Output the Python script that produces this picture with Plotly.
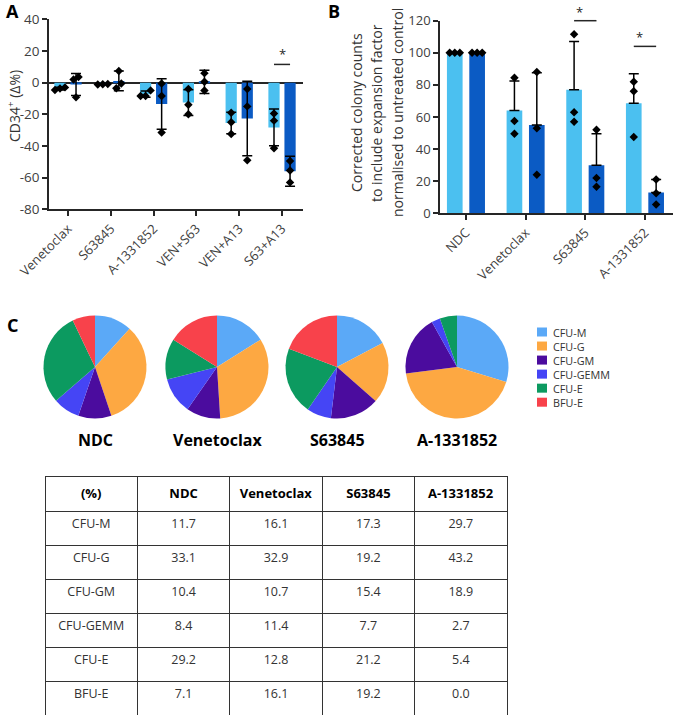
import plotly.graph_objects as go

W, H = 674, 716
FONT = "Open Sans"

# ---------------- Panel A data ----------------
cats_a = ["Venetoclax", "S63845", "A-1331852", "VEN+S63", "VEN+A13", "S63+A13"]
a_light_mean = [-3.8, -1.0, -7.3, -12.6, -25.5, -28.3]
a_light_sd = [0.9, 0.2, 2.0, 8.1, 6.8, 11.6]
a_dark_mean = [-1.2, 1.1, -13.5, 0.5, -22.7, -56.0]
a_dark_sd = [7.0, 6.3, 16.0, 7.3, 23.5, 9.5]
a_light_pts = [[-4.7, -3.7, -3.0], [-0.8, -1.0, -1.2], [-4.9, -8.5, -8.5],
               [-4.0, -14.0, -20.0], [-19.0, -25.0, -32.5], [-19.5, -24.0, -41.5]]
a_dark_pts = [[3.6, 2.0, -9.3], [7.3, -0.5, -3.6], [-0.5, -8.5, -31.5],
              [6.0, -5.0, 0.5], [-4.0, -15.0, -49.0], [-49.5, -63.0, -55.5]]
a_yticks = [-80, -60, -40, -20, 0, 20, 40]
a_sig_cat = [5]
a_sig_y = [11.5]
a_star_y = [18.3]

# ---------------- Panel B data ----------------
cats_b = ["NDC", "Venetoclax", "S63845", "A-1331852"]
b_light_mean = [100.0, 64.0, 77.0, 68.5]
b_light_sd = [0.0, 18.5, 30.0, 18.5]
b_dark_mean = [100.0, 55.0, 30.0, 13.0]
b_dark_sd = [0.0, 32.5, 19.5, 8.0]
b_light_pts = [[100, 100, 100], [84.5, 57.5, 49.5], [111.5, 63.0, 57.0], [82.0, 76.0, 47.5]]
b_dark_pts = [[100, 100, 100], [88.0, 53.0, 24.0], [52.0, 22.0, 16.5], [21.0, 12.5, 5.5]]
b_yticks = [0, 20, 40, 60, 80, 100, 120]
b_sig_cat = [2, 3]
b_sig_y = [120.0, 104.0]
b_star_y = [125.5, 109.7]
b_title_lines = ["Corrected colony counts", "to include expansion factor",
                 "normalised to untreated control"]

# ---------------- Panel C data ----------------
pie_cats = ["CFU-M", "CFU-G", "CFU-GM", "CFU-GEMM", "CFU-E", "BFU-E"]
pie_groups = ["NDC", "Venetoclax", "S63845", "A-1331852"]
pct_ndc = [11.7, 33.1, 10.4, 8.4, 29.2, 7.1]
pct_ven = [16.1, 32.9, 10.7, 11.4, 12.8, 16.1]
pct_s63 = [17.3, 19.2, 15.4, 7.7, 21.2, 19.2]
pct_a13 = [29.7, 43.2, 18.9, 2.7, 5.4, 0.0]
table_header = ["(%)"] + pie_groups

# ---------------- styles ----------------
LIGHT = "#4BC0F0"
DARK = "#0B5BC4"
PIE_COLORS = ["#5BA9F7", "#FDA842", "#4B0C9E", "#4545F5", "#0C9A60", "#F8424B"]
AX = "#262626"
TXT = "#404040"


def px(x):
    return x / W


def py(y):
    return 1 - y / H


def dodge(vals, tol, step):
    order = sorted(range(len(vals)), key=lambda k: vals[k])
    clusters = []
    for k in order:
        if clusters and abs(vals[k] - vals[clusters[-1][-1]]) <= tol:
            clusters[-1].append(k)
        else:
            clusters.append([k])
    offs = [0.0] * len(vals)
    for c in clusters:
        n = len(c)
        for j, k in enumerate(c):
            offs[k] = (j - (n - 1) / 2) * step
    return offs


BARGAP = 0.25
HALF = (1 - BARGAP) / 4  # centre offset of each bar in a pair

fig = go.Figure()


def add_panel(xa, ya, means_l, sd_l, means_d, sd_d, pts_l, pts_d, sym, tol, step):
    n = len(means_l)
    for means, sds, color in ((means_l, sd_l, LIGHT), (means_d, sd_d, DARK)):
        fig.add_trace(go.Bar(
            x=list(range(n)), y=means, marker=dict(color=color, line=dict(width=0)),
            error_y=dict(type="data", symmetric=False, array=sds,
                         arrayminus=sds if sym else [0] * n,
                         color="black", thickness=1.5, width=5),
            xaxis=xa, yaxis=ya, showlegend=False, hoverinfo="y"))
    for pts, sgn in ((pts_l, -1), (pts_d, 1)):
        xs, ys = [], []
        for i, vals in enumerate(pts):
            offs = dodge(vals, tol, step)
            for v, o in zip(vals, offs):
                xs.append(i + sgn * HALF + o)
                ys.append(v)
        fig.add_trace(go.Scatter(
            x=xs, y=ys, mode="markers", cliponaxis=False,
            marker=dict(symbol="diamond", size=6.5, color="black"),
            xaxis=xa, yaxis=ya, showlegend=False, hoverinfo="y"))


add_panel("x", "y", a_light_mean, a_light_sd, a_dark_mean, a_dark_sd,
          a_light_pts, a_dark_pts, True, 3.8, 0.117)
add_panel("x2", "y2", b_light_mean, b_light_sd, b_dark_mean, b_dark_sd,
          b_light_pts, b_dark_pts, False, 3.7, 0.085)

# pies
pie_vals = [pct_ndc, pct_ven, pct_s63, pct_a13]
pie_cx = [95, 217, 337, 457]
pie_cy = 367
pie_r = 51.5
for vals, cx in zip(pie_vals, pie_cx):
    fig.add_trace(go.Pie(
        values=vals, labels=pie_cats, sort=False, direction="clockwise", rotation=0,
        marker=dict(colors=PIE_COLORS, line=dict(width=0)), textinfo="none",
        domain=dict(x=[px(cx - pie_r), px(cx + pie_r)], y=[py(pie_cy + pie_r), py(pie_cy - pie_r)]),
        showlegend=False, hoverinfo="label+value"))

# table
cols = [pie_cats] + [[f"{v:.1f}" for v in vals] for vals in pie_vals]
fig.add_trace(go.Table(
    domain=dict(x=[px(45), px(507)], y=[0, py(476)]),
    columnwidth=[1] * 5,
    header=dict(values=[f"<b>{h}</b>" for h in table_header], height=35,
                align="center", fill_color="white",
                line=dict(color="#333333", width=1),
                font=dict(family=FONT, size=13, color="black")),
    cells=dict(values=cols, height=34, align="center", fill_color="white",
               line=dict(color="#333333", width=1),
               font=dict(family=FONT, size=12.5, color="#333333"))))

axis_common = dict(showline=True, linecolor=AX, linewidth=1.5, ticks="outside",
                   ticklen=5, tickwidth=1.5, tickcolor=AX, showgrid=False, zeroline=False,
                   tickfont=dict(family=FONT, size=13, color=TXT))

A_R0, A_R1 = -0.444, 5.49
B_R0, B_R1 = -0.435, 3.47
A_XDOM = [px(49), px(303)]
A_YDOM = [py(209.3), py(19.3)]
B_XDOM = [px(440), px(673)]
B_YDOM = [py(213.3), py(20.7)]

fig.update_layout(
    template="none",
    width=W, height=H, autosize=False,
    margin=dict(l=0, r=0, t=0, b=0),
    paper_bgcolor="white", plot_bgcolor="white",
    barmode="group", bargap=BARGAP, bargroupgap=0.3,
    font=dict(family=FONT, color=TXT),
    xaxis=dict(axis_common, domain=A_XDOM, range=[A_R0, A_R1], anchor="y",
               tickvals=list(range(len(cats_a))), ticktext=cats_a, tickangle=-45),
    yaxis=dict(axis_common, domain=A_YDOM, range=[-80, 40], anchor="x",
               tickvals=a_yticks, ticktext=[str(v) for v in a_yticks],
               tickfont=dict(family=FONT, size=13.5, color=TXT),
               zeroline=True, zerolinecolor=AX, zerolinewidth=1.5),
    xaxis2=dict(axis_common, domain=B_XDOM, range=[B_R0, B_R1], anchor="y2",
                tickvals=list(range(len(cats_b))), ticktext=cats_b, tickangle=-45),
    yaxis2=dict(axis_common, domain=B_YDOM, range=[0, 120], anchor="x2",
                tickvals=b_yticks, ticktext=[str(v) for v in b_yticks],
                tickfont=dict(family=FONT, size=13, color=TXT)),
)


# significance brackets, mapped from axis values to paper space (never clipped/hidden)
def sig(xdom, ydom, xr, yr, cats, ys, stars):
    def fx(v):
        return xdom[0] + (v - xr[0]) / (xr[1] - xr[0]) * (xdom[1] - xdom[0])

    def fy(v):
        return ydom[0] + (v - yr[0]) / (yr[1] - yr[0]) * (ydom[1] - ydom[0])

    for c, yv, sy in zip(cats, ys, stars):
        fig.add_shape(type="line", xref="paper", yref="paper",
                      x0=fx(c - HALF), x1=fx(c + HALF), y0=fy(yv), y1=fy(yv),
                      line=dict(color=AX, width=1.5))
        fig.add_annotation(x=fx(c), y=fy(sy), xref="paper", yref="paper", text="*",
                           showarrow=False, yanchor="middle",
                           font=dict(family=FONT, size=13, color=AX))


sig(A_XDOM, A_YDOM, (A_R0, A_R1), (-80, 40), a_sig_cat, a_sig_y, a_star_y)
sig(B_XDOM, B_YDOM, (B_R0, B_R1), (0, 120), b_sig_cat, b_sig_y, b_star_y)


def ann(text, x, y, size, color="black", angle=0, xanchor="center", bold=False, align="center"):
    fig.add_annotation(text=f"<b>{text}</b>" if bold else text, x=px(x), y=py(y),
                       xref="paper", yref="paper", showarrow=False, textangle=angle,
                       xanchor=xanchor, yanchor="middle", align=align,
                       font=dict(family=FONT, size=size, color=color))


ann("A", 12, 11, 18, bold=True)
ann("B", 334, 11, 18, bold=True)
ann("C", 12, 325, 18, bold=True)
ann("CD34<sup>+</sup> (Δ%)", 14, 106, 14, color="#333333", angle=-90)
for line, lx in zip(b_title_lines, [357, 377, 398]):
    ann(line, lx, 113, 14, color="#333333", angle=-90)
for g, cx in zip(pie_groups, pie_cx):
    ann(g, cx, 440, 16, bold=True)

# manual legend for pie categories
leg_x = 537
leg_y0 = 332
leg_fs = 10.8
leg_step = 1.3 * leg_fs
for k, col in enumerate(PIE_COLORS):
    yc = leg_y0 + k * leg_step
    fig.add_shape(type="rect", xref="paper", yref="paper",
                  x0=px(leg_x), x1=px(leg_x + 10), y0=py(yc + 4.5), y1=py(yc - 4.5),
                  fillcolor=col, line=dict(width=0))
ann("<br>".join(pie_cats), leg_x + 14, leg_y0 + 2.5 * leg_step, leg_fs,
    color="#333333", xanchor="left", align="left")

fig.write_html("out.html", config={"displayModeBar": False},
               post_script="document.body.style.margin='0px';")
